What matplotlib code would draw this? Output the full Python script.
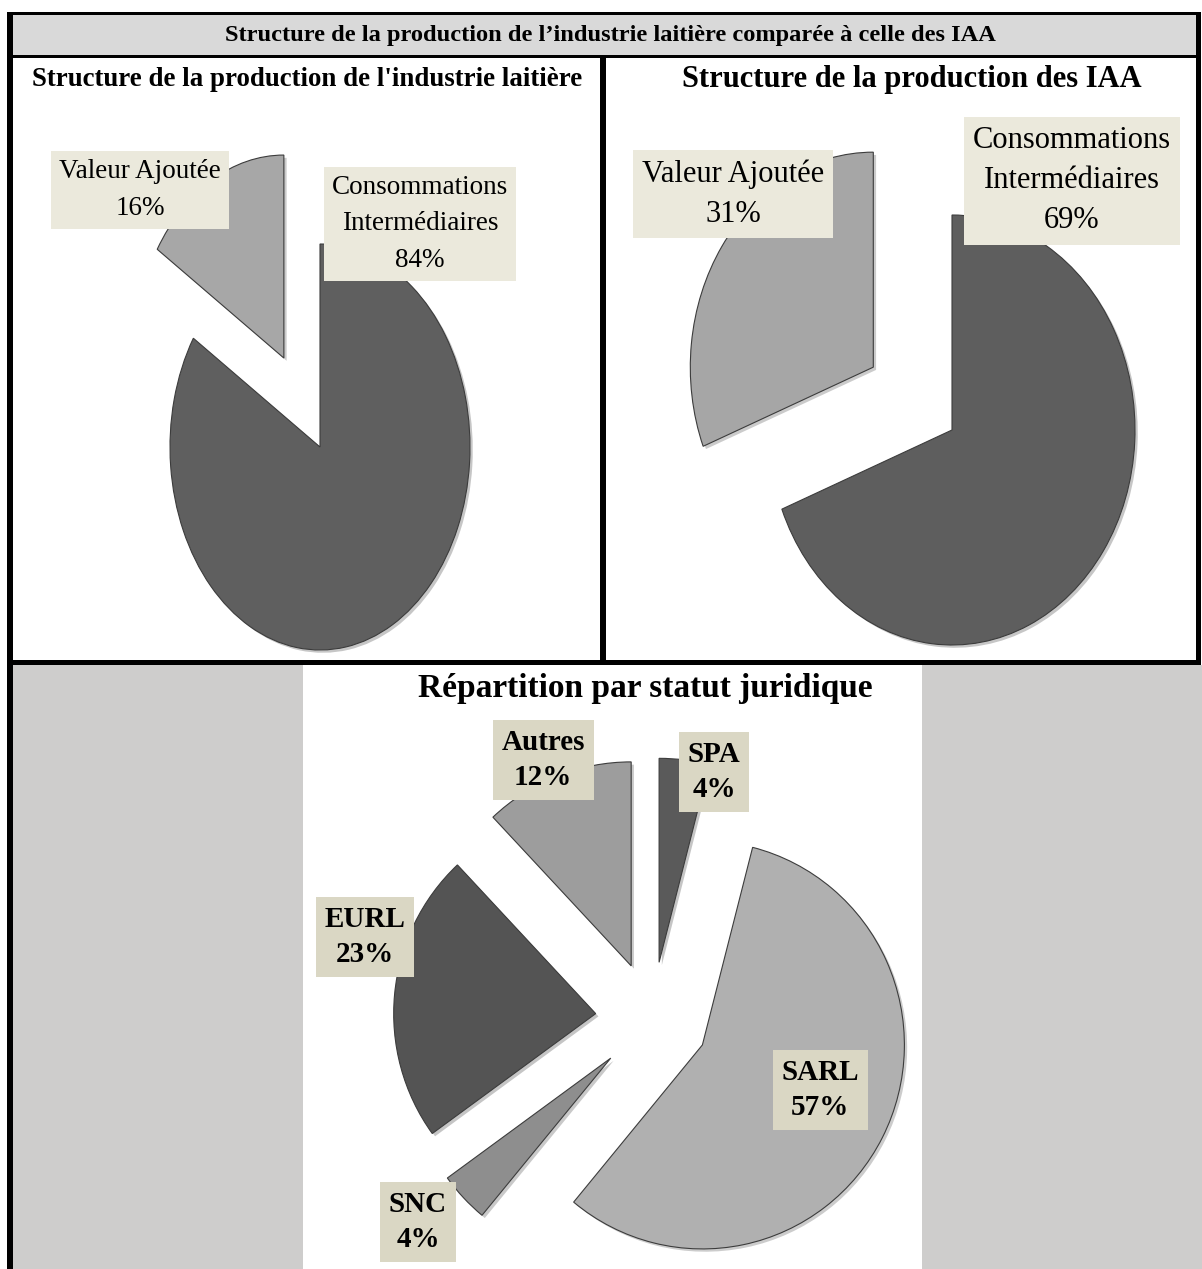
import matplotlib
matplotlib.use("Agg")
import matplotlib.pyplot as plt
from matplotlib.patches import Rectangle
import matplotlib.patheffects as pe

plt.rcParams["font.family"] = ["Liberation Serif", "DejaVu Serif"]

# --- data ---------------------------------------------------------------
prod_labels = ["Consommations\nIntermédiaires", "Valeur Ajoutée"]
laitiere_pct = [84, 16]
iaa_pct = [69, 31]

statut_labels = ["SPA", "SARL", "SNC", "EURL", "Autres"]
statut_pct = [4, 57, 4, 23, 12]

header_title = "Structure de la production de l’industrie laitière comparée à celle des IAA"
title_laitiere = "Structure de la production de l'industrie laitière"
title_iaa = "Structure de la production des IAA"
title_statut = "Répartition par statut juridique"

# --- layout (pixels) ----------------------------------------------------
W, H = 1202, 1269
fig = plt.figure(figsize=(W / 100, H / 100), dpi=100)


def pixel_axes():
    ax = fig.add_axes([0, 0, 1, 1])
    ax.set_xlim(0, W)
    ax.set_ylim(H, 0)
    ax.set_facecolor("none")
    ax.axis("off")
    return ax


bg = pixel_axes()


def rect(x0, y0, x1, y1, color):
    bg.add_patch(Rectangle((x0, y0), x1 - x0, y1 - y0, color=color, lw=0, zorder=0))


# table backgrounds
rect(13, 15, 1196, 55, "#d9d9d9")
rect(13, 665, 303, H, "#cecdcc")
rect(922, 665, W, H, "#cecdcc")

# table borders
rect(7, 12, 1201, 15, "black")
rect(7, 12, 13, H, "black")
rect(1196, 12, 1201, 665, "black")
rect(7, 55, 1201, 58, "black")
rect(600, 58, 606, 660, "black")
rect(7, 660, 1201, 665, "black")

wedge_style = dict(edgecolor="#3c3c3c", linewidth=0.8,
                   path_effects=[pe.SimplePatchShadow(offset=(2, -2), alpha=0.25), pe.Normal()])


def draw_pie(values, colors, explode, box, center, radii):
    x0, y0, x1, y1 = box
    cx, cy = center
    rx, ry = radii
    ax = fig.add_axes([x0 / W, 1 - y1 / H, (x1 - x0) / W, (y1 - y0) / H])
    ax.pie(values, colors=colors, explode=explode, startangle=90,
           counterclock=False, wedgeprops=wedge_style)
    ax.set_aspect("auto")
    ax.set_xlim((x0 - cx) / rx, (x1 - cx) / rx)
    ax.set_ylim((cy - y1) / ry, (cy - y0) / ry)
    ax.axis("off")
    return ax


draw_pie(laitiere_pct, ["#5f5f5f", "#a7a7a7"], [0, 0.5],
         (13, 58, 600, 660), (320, 447), (150, 203))
draw_pie(iaa_pct, ["#5e5e5e", "#a6a6a6"], [0, 0.52],
         (606, 58, 1196, 660), (952, 430), (183, 215))
draw_pie(statut_pct, ["#5a5a5a", "#b0b0b0", "#8e8e8e", "#545454", "#9d9d9d"],
         [0.28] * 5, (303, 665, 922, H), (652, 1019), (202, 204))

# --- titles and data labels, above the pies ------------------------------
fg = pixel_axes()

fg.text(610, 35, header_title, ha="center", va="center", fontsize=17.6, fontweight="bold")
fg.text(307, 80, title_laitiere, ha="center", va="center", fontsize=19.4, fontweight="bold")
fg.text(912, 80, title_iaa, ha="center", va="center", fontsize=22, fontweight="bold")
fg.text(645, 688, title_statut, ha="center", va="center", fontsize=24, fontweight="bold")

top_box = dict(boxstyle="square,pad=0.3", fc="#ebe9dc", ec="none")
bottom_box = dict(boxstyle="square,pad=0.3", fc="#dad7c4", ec="none")

pos_laitiere = [(420, 224), (140, 190)]
pos_iaa = [(1072, 181), (733, 194)]
pos_statut = [(714, 772), (820, 1090), (418, 1222), (365, 937), (543, 760)]

for lab, p, (x, y) in zip(prod_labels, laitiere_pct, pos_laitiere):
    fg.text(x, y, f"{lab}\n{p}%", ha="center", va="center", fontsize=19.5,
            linespacing=1.6, bbox=top_box)
for lab, p, (x, y) in zip(prod_labels, iaa_pct, pos_iaa):
    fg.text(x, y, f"{lab}\n{p}%", ha="center", va="center", fontsize=22,
            linespacing=1.5, bbox=top_box)
for lab, p, (x, y) in zip(statut_labels, statut_pct, pos_statut):
    fg.text(x, y, f"{lab}\n{p}%", ha="center", va="center", fontsize=21,
            fontweight="bold", linespacing=1.4, bbox=bottom_box)

fig.savefig("out.png", dpi=100)
plt.close(fig)
